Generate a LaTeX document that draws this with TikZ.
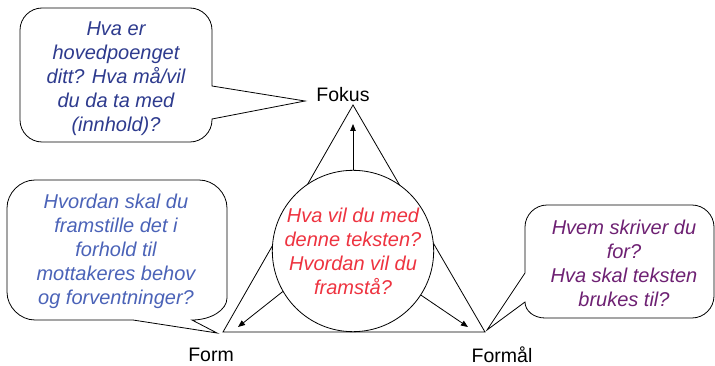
\documentclass[tikz,border=0pt]{standalone}
\usepackage{fontspec}
\setmainfont{Liberation Sans}
\usetikzlibrary{arrows.meta}
\definecolor{navytxt}{HTML}{2E3B8E}
\definecolor{bluetxt}{HTML}{4B63B8}
\definecolor{purpletxt}{HTML}{6E2173}
\definecolor{redtxt}{HTML}{EE3340}
\tikzset{
  bubble/.style={draw=black, line width=0.8pt, fill=white, line join=miter},
  bubtext/.style={align=center, font=\fontsize{20pt}{24pt}\selectfont\itshape, inner sep=0pt},
  lbl/.style={font=\fontsize{19.5pt}{23pt}\selectfont, text=black, inner sep=0pt},
  arr/.style={line width=0.8pt, -{Triangle[length=7pt,width=5.5pt]}},
  tri/.style={line width=0.8pt, line join=miter}
}
\begin{document}
\begin{tikzpicture}[x=1pt,y=-1pt]
\useasboundingbox (0,0) rectangle (715,366);
% triangle
\coordinate (A) at (353,105);
\coordinate (B) at (223,332);
\coordinate (C) at (485,332);
\draw[tri] (A) -- (B) -- (C) -- cycle;
% circle
\node[circle, draw, line width=0.8pt, fill=white, minimum size=154pt, inner sep=0pt,
      align=center, text=redtxt, font=\fontsize{20pt}{24pt}\selectfont\itshape] (c) at (353,251)
  {Hva vil du med\\denne teksten?\\Hvordan vil du\\framstå?};
\coordinate (tF) at (353,124);
\coordinate (tL) at (238,327);
\coordinate (tR) at (468,327);
\draw[arr] (c.north) -- (tF);
\draw[arr] (c.210) -- (tL);
\draw[arr] (c.-33) -- (tR);
% labels
\node[lbl] (fokus) at (343,95) {Fokus};
\node[lbl] (form) at (211,355) {Form};
\node[lbl] (formal) at (502,355) {Formål};
% top-left callout
\coordinate (tipA) at (305,101);
\draw[bubble] (42,8) -- (190,8) .. controls (202,8) and (212,18) .. (212,30) -- (212,86) -- (tipA) -- (212,119)
  -- (212,120) .. controls (212,132) and (202,142) .. (190,142) -- (42,142)
  .. controls (30,142) and (20,132) .. (20,120) -- (20,30) .. controls (20,18) and (30,8) .. (42,8) -- cycle;
\node[bubtext, text=navytxt] (qa) at (116,79) {Hva er\\hovedpoenget\\ditt? Hva må/vil\\du da ta med\\(innhold)?};
% bottom-left callout
\coordinate (tipB) at (217,333);
\draw[bubble] (35,180) -- (199,180) .. controls (214,180) and (227,193) .. (227,208) -- (227,298)
  .. controls (227,310) and (211,320) .. (192,320) -- (tipB) -- (133,320) -- (35,320)
  .. controls (20,320) and (7,307) .. (7,292) -- (7,208) .. controls (7,193) and (20,180) .. (35,180) -- cycle;
\node[bubtext, text=bluetxt] (qb) at (116,251) {Hvordan skal du\\framstille det i\\forhold til\\mottakeres behov\\og forventninger?};
% right callout
\coordinate (tipC) at (487,330);
\draw[bubble] (547,205) -- (692,205) .. controls (704,205) and (714,215) .. (714,227) -- (714,296)
  .. controls (714,308) and (704,318) .. (692,318) -- (545,318) .. controls (534,318) and (525,311) .. (525,302)
  -- (tipC) -- (525,273) -- (525,227) .. controls (525,215) and (535,205) .. (547,205) -- cycle;
\node[bubtext, text=purpletxt] (qc) at (624,263) {Hvem skriver du\\for?\\Hva skal teksten\\brukes til?};
\end{tikzpicture}
\end{document}
